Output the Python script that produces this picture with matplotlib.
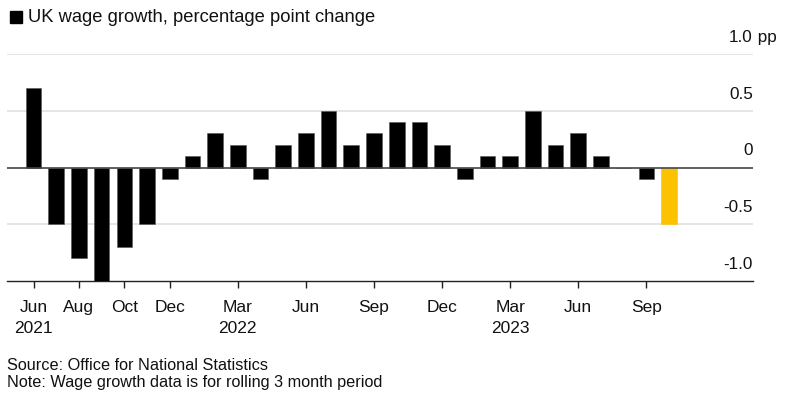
import matplotlib.pyplot as plt
from matplotlib.transforms import blended_transform_factory
from matplotlib.patches import Rectangle

plt.rcParams['font.family'] = ['Liberation Sans', 'DejaVu Sans']

# monthly data, Jun 2021 .. Oct 2023
months = ['2021-06', '2021-07', '2021-08', '2021-09', '2021-10', '2021-11', '2021-12',
          '2022-01', '2022-02', '2022-03', '2022-04', '2022-05', '2022-06', '2022-07',
          '2022-08', '2022-09', '2022-10', '2022-11', '2022-12',
          '2023-01', '2023-02', '2023-03', '2023-04', '2023-05', '2023-06', '2023-07',
          '2023-08', '2023-09', '2023-10']
values = [0.7, -0.5, -0.8, -1.0, -0.7, -0.5, -0.1,
          0.1, 0.3, 0.2, -0.1, 0.2, 0.3, 0.5,
          0.2, 0.3, 0.4, 0.4, 0.2,
          -0.1, 0.1, 0.1, 0.5, 0.2, 0.3, 0.1,
          0.0, -0.1, -0.5]

tick_months = ['2021-06', '2021-08', '2021-10', '2021-12', '2022-03', '2022-06',
               '2022-09', '2022-12', '2023-03', '2023-06', '2023-09']
tick_labels = ['Jun\n2021', 'Aug', 'Oct', 'Dec', 'Mar\n2022', 'Jun',
               'Sep', 'Dec', 'Mar\n2023', 'Jun', 'Sep']

y_ticks = [1.0, 0.5, 0, -0.5, -1.0]
y_labels = ['1.0', '0.5', '0', '-0.5', '-1.0']

fig = plt.figure(figsize=(7.99, 4.0), dpi=100)
ax = fig.add_axes([7 / 799, 119 / 400, 746 / 799, 227 / 400])

x = list(range(len(months)))
colors = ['black'] * (len(values) - 1) + ['#fcc200']
edges = ['#555555'] * (len(values) - 1) + ['#fcc200']
ax.bar(x, values, width=0.69, color=colors, edgecolor=edges, linewidth=0.4, zorder=3)

ax.set_xlim(-1.17, 31.7)
ax.set_ylim(-1.0, 1.0)

# gridlines
for v in y_ticks:
    if v == 0:
        ax.axhline(v, color='#444444', lw=1.2, zorder=4)
    elif v > -1.0:
        ax.axhline(v, color='#e0e0e0', lw=1.2, zorder=1)

for s in ['top', 'left', 'right']:
    ax.spines[s].set_visible(False)
ax.spines['bottom'].set_color('#222222')
ax.spines['bottom'].set_linewidth(1.0)

ax.set_yticks([])
ax.set_xticks([months.index(m) for m in tick_months])
ax.set_xticklabels(tick_labels, fontsize=12.5, color='#111111', linespacing=1.5)
ax.tick_params(axis='x', length=5, width=1, color='#222222', pad=9)

# y labels on the right, sitting above the gridlines
tr = blended_transform_factory(ax.transAxes, ax.transData)
for v, lab in zip(y_ticks, y_labels):
    ax.annotate(lab, xy=(1.0, v), xycoords=tr, xytext=(0, 6.5), textcoords='offset points',
                ha='right', va='bottom', fontsize=12.3, color='#111111')
ax.annotate(' pp', xy=(1.0, 1.0), xycoords=tr, xytext=(0, 6.5), textcoords='offset points',
            ha='left', va='bottom', fontsize=12.3, color='#111111')

# title with legend square
fig.patches.append(Rectangle((10 / 799, 1 - 23 / 400), 12 / 799, 12 / 400,
                             transform=fig.transFigure, color='black'))
fig.text(28 / 799, 1 - 17 / 400, 'UK wage growth, percentage point change',
         fontsize=13.2, va='center', ha='left', color='#111111')

fig.text(7 / 799, 1 - 365 / 400, 'Source: Office for National Statistics',
         fontsize=11.7, va='center', ha='left', color='#111111')
fig.text(7 / 799, 1 - 383 / 400, 'Note: Wage growth data is for rolling 3 month period',
         fontsize=11.7, va='center', ha='left', color='#111111')

fig.savefig('out.png', dpi=100)
